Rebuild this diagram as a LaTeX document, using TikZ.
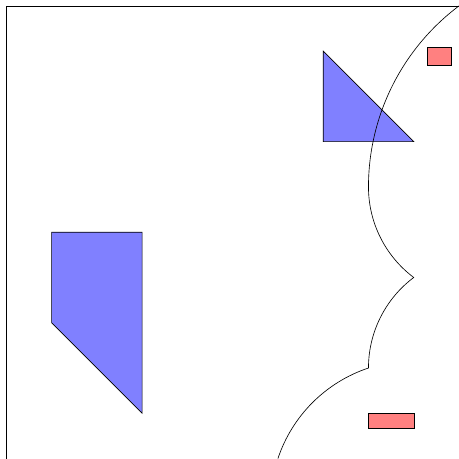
\documentclass[tikz,border=0pt]{standalone}
\usepackage{amsmath}
\usetikzlibrary{calc}
\tikzset{
  obstacle/.style = {draw, fill=blue!50},
  goalbox/.style  = {draw, fill=red!50},
  frontier/.style = {draw, black}
}

\begin{document}
\begin{tikzpicture}
\useasboundingbox (-0.14,0) rectangle (10,10.13);
\draw (0,0) -- (0,10) -- (10,10);
% obstacles
\draw [obstacle] (1,5) -- (3,5) -- (3,1) -- (1,3) -- cycle;
\draw [obstacle] (7,9) -- (7,7) -- (9,7) -- cycle;
% goals
\draw [goalbox] (9.31,8.69) rectangle (9.82,9.09);
\draw [goalbox] (8,0.67) rectangle (9.01,0.99);
% boundary
\draw [frontier] (10,10) arc (126.87:180:5)
   arc (180:233.13:2.5)
   arc (126.87:180:2.5)
   arc (108.43:161.57:3.1623);
\end{tikzpicture}
\end{document}
